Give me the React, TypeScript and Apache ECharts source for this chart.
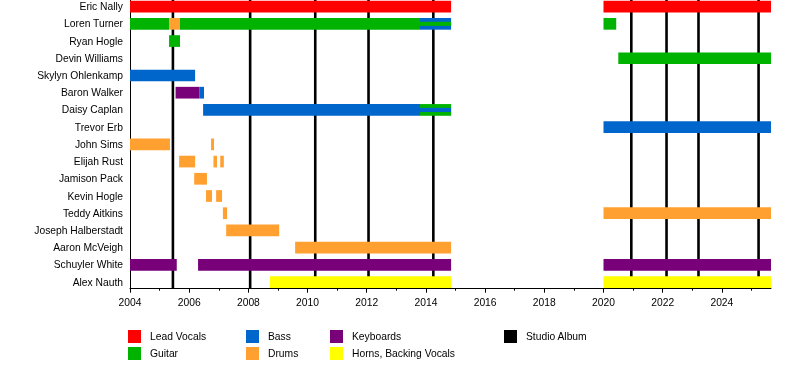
import React, { useEffect, useRef } from "react";
import * as echarts from "echarts";

const END = 2025.66;

const members = [
  "Eric Nally", "Loren Turner", "Ryan Hogle", "Devin Williams", "Skylyn Ohlenkamp",
  "Baron Walker", "Daisy Caplan", "Trevor Erb", "John Sims", "Elijah Rust",
  "Jamison Pack", "Kevin Hogle", "Teddy Aitkins", "Joseph Halberstadt",
  "Aaron McVeigh", "Schuyler White", "Alex Nauth",
];

// [member, start, end]
const leadVocals: [string, number, number][] = [
  ["Eric Nally", 2004, 2014.85], ["Eric Nally", 2020, END],
];
const guitar: [string, number, number][] = [
  ["Loren Turner", 2004, 2005.32], ["Loren Turner", 2005.69, 2013.8], ["Loren Turner", 2020, 2020.43],
  ["Ryan Hogle", 2005.32, 2005.69], ["Devin Williams", 2020.5, END], ["Daisy Caplan", 2013.8, 2014.85],
];
const bass: [string, number, number][] = [
  ["Loren Turner", 2013.8, 2014.85], ["Skylyn Ohlenkamp", 2004, 2006.2],
  ["Baron Walker", 2006.34, 2006.5], ["Daisy Caplan", 2006.47, 2013.8], ["Trevor Erb", 2020, END],
];
const drums: [string, number, number][] = [
  ["Loren Turner", 2005.32, 2005.69],
  ["John Sims", 2004, 2005.35], ["John Sims", 2006.74, 2006.84],
  ["Elijah Rust", 2005.66, 2006.2], ["Elijah Rust", 2006.82, 2006.94], ["Elijah Rust", 2007.05, 2007.17],
  ["Jamison Pack", 2006.17, 2006.6],
  ["Kevin Hogle", 2006.57, 2006.77], ["Kevin Hogle", 2006.91, 2007.11],
  ["Teddy Aitkins", 2007.14, 2007.28], ["Teddy Aitkins", 2020, END],
  ["Joseph Halberstadt", 2007.25, 2009.04],
  ["Aaron McVeigh", 2009.58, 2014.85],
];
const keyboards: [string, number, number][] = [
  ["Baron Walker", 2005.54, 2006.34],
  ["Schuyler White", 2004, 2005.58], ["Schuyler White", 2006.3, 2014.85], ["Schuyler White", 2020, END],
];
const horns: [string, number, number][] = [
  ["Alex Nauth", 2008.73, 2014.85], ["Alex Nauth", 2020, END],
];
// secondary role shown as a thin stripe inside a bar: [member, start, end, role]
const stripes: [string, number, number, string][] = [
  ["Loren Turner", 2013.8, 2014.85, "Guitar"],
  ["Daisy Caplan", 2013.8, 2014.85, "Bass"],
];
const studioAlbums = [2005.45, 2008.06, 2010.26, 2012.06, 2014.25, 2020.94, 2022.13, 2023.21, 2025.24];
const majorTicks = [2004, 2006, 2008, 2010, 2012, 2014, 2016, 2018, 2020, 2022, 2024];
const minorTicks = [2005, 2007, 2009, 2011, 2013, 2015, 2017, 2019, 2021, 2023, 2025];

const roleColors: Record<string, string> = {
  "Lead Vocals": "#ff0000",
  "Guitar": "#00b300",
  "Bass": "#0066cc",
  "Drums": "#ffa030",
  "Keyboards": "#780078",
  "Horns, Backing Vocals": "#ffff00",
  "Studio Album": "#000000",
};

const FONT = "'Liberation Sans', Arial, Helvetica, sans-serif";
const FS = 10.3;
const SHIFT = 2; // chart canvas starts 2px above the page top

export default function App() {
  const ref = useRef<HTMLDivElement>(null);
  useEffect(() => {
    if (!ref.current) return;
    const chart = echarts.init(ref.current, undefined, { renderer: "svg" });

    const toData = (arr: [string, number, number][]) =>
      arr.map(([m, s, e]) => [members.indexOf(m), s, e]);

    const barRender = (thin: boolean) => (params: any, api: any) => {
      const row = api.value(0);
      const p0 = api.coord([api.value(1), row]);
      const p1 = api.coord([api.value(2), row]);
      const band = api.size([0, 1])[1];
      const h = thin ? band * 0.24 : band * 0.68;
      const color = thin ? roleColors[stripes[params.dataIndex][3]] : api.visual("color");
      return {
        type: "rect",
        shape: { x: p0[0], y: p0[1] - h / 2, width: p1[0] - p0[0], height: h },
        style: { fill: color },
      };
    };

    const roleSeries = (name: string, arr: [string, number, number][]) => ({
      type: "custom",
      name,
      xAxisIndex: 0,
      yAxisIndex: 0,
      z: 3,
      itemStyle: { color: roleColors[name] },
      encode: { x: [1, 2], y: 0 },
      renderItem: barRender(false),
      data: toData(arr),
    });

    const legendBase = {
      orient: "vertical",
      top: 330 + SHIFT,
      padding: 0,
      itemWidth: 13,
      itemHeight: 13,
      itemGap: 4,
      icon: "rect",
      selectedMode: false,
      textStyle: { fontFamily: FONT, fontSize: FS, color: "#000", padding: [3, 0, 0, 4] },
    };

    chart.setOption({
      animation: false,
      textStyle: { fontFamily: FONT },
      grid: { left: 130, top: 0, width: 641, height: 292.7 },
      legend: [
        { ...legendBase, left: 128, data: ["Lead Vocals", "Guitar"] },
        { ...legendBase, left: 246, data: ["Bass", "Drums"] },
        { ...legendBase, left: 330, data: ["Keyboards", "Horns, Backing Vocals"] },
        { ...legendBase, left: 504, data: ["Studio Album"] },
      ],
      xAxis: [
        {
          type: "value",
          min: 2004,
          max: END,
          position: "bottom",
          offset: -2,
          axisLine: { show: true, lineStyle: { color: "#000", width: 1 } },
          axisTick: { show: true, customValues: majorTicks, length: 4, lineStyle: { color: "#000" } },
          axisLabel: {
            customValues: majorTicks,
            color: "#000",
            fontSize: FS,
            fontFamily: FONT,
            margin: 9,
            formatter: (v: number) => String(Math.round(v)),
          },
          splitLine: { show: false },
        },
        {
          type: "value",
          min: 2004,
          max: END,
          position: "bottom",
          offset: -2,
          axisLine: { show: false },
          axisTick: { show: true, customValues: minorTicks, length: 2, lineStyle: { color: "#000" } },
          axisLabel: { show: false },
          splitLine: { show: false },
        },
      ],
      yAxis: {
        type: "category",
        inverse: true,
        data: members,
        boundaryGap: true,
        axisLine: { show: true, lineStyle: { color: "#000", width: 1 } },
        axisTick: { show: false },
        axisLabel: { color: "#000", fontSize: FS, fontFamily: FONT, margin: 7 },
        splitLine: { show: false },
      },
      series: [
        {
          type: "custom",
          name: "Studio Album",
          xAxisIndex: 0,
          yAxisIndex: 0,
          z: 1,
          itemStyle: { color: roleColors["Studio Album"] },
          encode: { x: 0 },
          renderItem: (params: any, api: any) => {
            const cs = params.coordSys;
            const x = api.coord([api.value(0), 0])[0];
            return {
              type: "line",
              shape: { x1: x, y1: SHIFT, x2: x, y2: cs.y + cs.height - 2 },
              style: { stroke: "#000", lineWidth: 2.6 },
            };
          },
          data: studioAlbums.map((v) => [v]),
        },
        roleSeries("Lead Vocals", leadVocals),
        roleSeries("Guitar", guitar),
        roleSeries("Bass", bass),
        roleSeries("Drums", drums),
        roleSeries("Keyboards", keyboards),
        roleSeries("Horns, Backing Vocals", horns),
        {
          type: "custom",
          name: "stripes",
          xAxisIndex: 0,
          yAxisIndex: 0,
          z: 4,
          encode: { x: [1, 2], y: 0 },
          renderItem: barRender(true),
          data: stripes.map(([m, s, e]) => [members.indexOf(m), s, e]),
        },
      ],
    });
    return () => chart.dispose();
  }, []);

  return (
    <div
      ref={ref}
      style={{ position: "fixed", left: 0, top: -SHIFT, width: 800, height: 368 + SHIFT }}
    />
  );
}
